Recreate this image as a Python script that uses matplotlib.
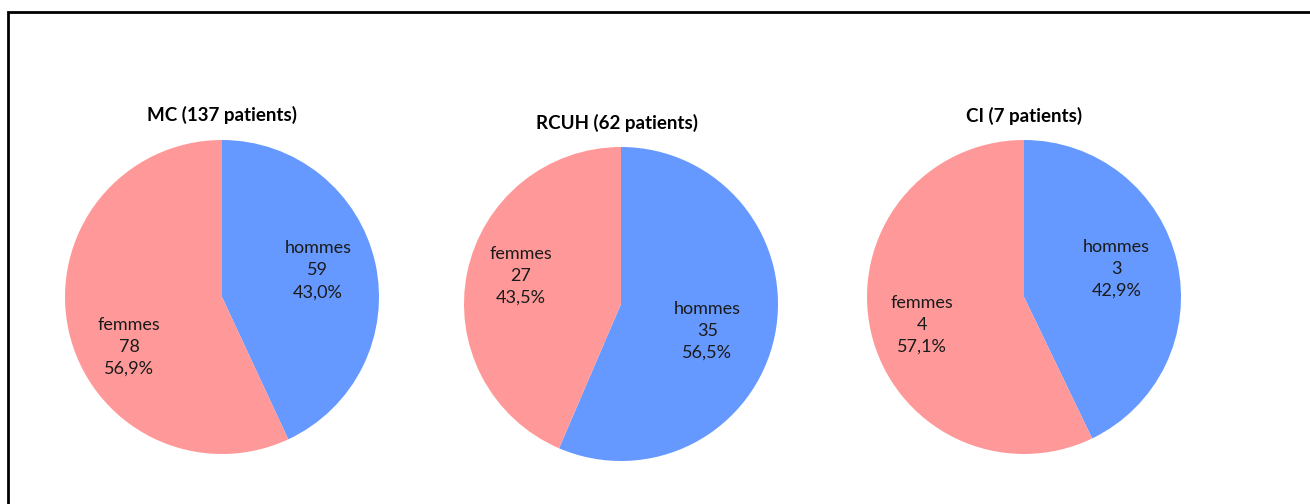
import matplotlib.pyplot as plt
from matplotlib.patches import Rectangle

plt.rcParams['font.family'] = ['Lato', 'DejaVu Sans']

# data
titles = ['MC (137 patients)', 'RCUH (62 patients)', 'CI (7 patients)']
categories = ['hommes', 'femmes']
hommes = [59, 35, 3]
femmes = [78, 27, 4]
# percentages as printed on the chart
hommes_pct = ['43,0%', '56,5%', '42,9%']
femmes_pct = ['56,9%', '43,5%', '57,1%']
colors = ['#6699FF', '#FF9999']

# layout (pixels): pie centers, radius, title positions, label offsets
W, H = 1310, 504
centers = [(222, 297), (621, 304), (1024, 297)]
radius = 157
title_pos = [(222, 115), (617, 123), (1024, 116)]
label_xy = [
    [(0.61, 0.17), (-0.59, -0.32)],
    [(0.55, -0.17), (-0.64, 0.18)],
    [(0.59, 0.18), (-0.65, -0.18)],
]

fig = plt.figure(figsize=(W / 100, H / 100), dpi=100)

# frame around the figure (cut at right and bottom)
fig.patches.append(Rectangle((7.5 / W, -0.1), 1.2, 1.1 - 12.5 / H,
                             transform=fig.transFigure, fill=False,
                             edgecolor='black', linewidth=2))

for i in range(3):
    cx, cy = centers[i]
    ax = fig.add_axes([(cx - radius) / W, (H - cy - radius) / H,
                       2 * radius / W, 2 * radius / H])
    vals = [hommes[i], femmes[i]]
    pcts = [hommes_pct[i], femmes_pct[i]]
    ax.pie(vals, colors=colors, startangle=90, counterclock=False,
           wedgeprops=dict(linewidth=0))
    ax.set_xlim(-1, 1)
    ax.set_ylim(-1, 1)
    ax.set_aspect('equal')
    for j in range(2):
        txt = '%s\n%d\n%s' % (categories[j], vals[j], pcts[j])
        x, y = label_xy[i][j]
        ax.text(x, y, txt, ha='center', va='center', fontsize=13,
                linespacing=1.45, color='#1a1a1a')
    tx, ty = title_pos[i]
    fig.text(tx / W, 1 - ty / H, titles[i], ha='center', va='center',
             fontsize=13.5, fontweight='bold', color='black')

fig.savefig('out.png', dpi=100)
